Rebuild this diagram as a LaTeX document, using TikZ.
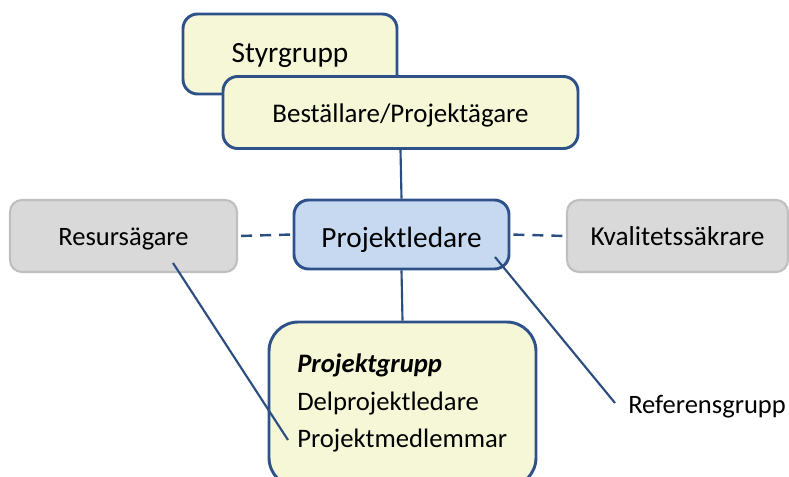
\documentclass[tikz,border=0pt]{standalone}
\usepackage{fontspec}
\setmainfont{Carlito}
\usetikzlibrary{calc}
\definecolor{edgeblue}{HTML}{2F5189}
\definecolor{lineblue}{HTML}{2C4D80}
\definecolor{paleyellow}{HTML}{F6F7D7}
\definecolor{paleblue}{HTML}{C6D9F1}
\definecolor{boxgray}{HTML}{D9D9D9}
\definecolor{edgegray}{HTML}{BFBFBF}
\tikzset{
  rolebox/.style={draw=edgeblue, line width=2.2pt, rounded corners=11pt, inner sep=0pt, text depth=0pt},
  yellowbox/.style={rolebox, fill=paleyellow},
  leadbox/.style={rolebox, fill=paleblue},
  sidebox/.style={draw=edgegray, fill=boxgray, line width=1.6pt, rounded corners=9pt, inner sep=0pt, text depth=0pt},
  listline/.style={anchor=base west, inner sep=0pt, font=\fontsize{20}{24}\selectfont},
  link/.style={draw=lineblue, line width=1.6pt},
  dashlink/.style={draw=lineblue, line width=1.8pt, dash pattern=on 8.25pt off 6pt, dash phase=12pt},
}
\begin{document}
\begin{tikzpicture}[x=0.75pt, y=-0.75pt]
  \useasboundingbox (0,0) rectangle (789,477);
  \clip (0,0) rectangle (789,477);
  % steering group and sponsor
  \node[yellowbox, minimum width=214*0.75pt, minimum height=80*0.75pt, text height=13.5pt,
        font=\fontsize{22}{26}\selectfont] (sty) at (290,54) {Styrgrupp};
  \node[yellowbox, minimum width=355*0.75pt, minimum height=72*0.75pt, text height=15pt,
        font=\fontsize{20.2}{24}\selectfont] (best) at (400.5,112.5) {Beställare/Projektägare};
  % project manager and side roles
  \node[leadbox, minimum width=215*0.75pt, minimum height=69*0.75pt, text height=18.8pt,
        font=\fontsize{22}{26}\selectfont] (pl) at (401.5,234.5) {Projektledare};
  \node[sidebox, minimum width=227*0.75pt, minimum height=72*0.75pt, text height=15pt,
        font=\fontsize{19.9}{24}\selectfont] (res) at (123.5,236) {Resursägare};
  \node[sidebox, minimum width=221*0.75pt, minimum height=72*0.75pt, text height=15pt,
        font=\fontsize{20.5}{24}\selectfont] (kva) at (677.5,236) {Kvalitetssäkrare};
  % project group
  \node[yellowbox, rounded corners=22pt, minimum width=267*0.75pt, minimum height=165*0.75pt]
        (pg) at (402.5,404.5) {};
  \node[listline, font=\fontsize{20}{24}\selectfont\bfseries\itshape] (pgt) at (297,373) {Projektgrupp};
  \node[listline] (dpl) at (297,410) {Delprojektledare};
  \node[listline] (pm) at (297,447) {Projektmedlemmar};
  % reference group
  \node[anchor=base west, inner sep=0pt, font=\fontsize{19.9}{24}\selectfont] (ref) at (628,413) {Referensgrupp};
  % connectors
  \draw[link] (best.south) -- (pl.north);
  \draw[link] (pl.south) -- (pg.north);
  \draw[dashlink] (res.east) -- (pl.west);
  \draw[dashlink] (pl.east) -- (kva.west);
  \coordinate (resfoot) at (173,263);
  \coordinate (pmend) at (288,440);
  \draw[link] (resfoot) -- (pmend);
  \coordinate (plfoot) at (495,257);
  \coordinate (refend) at (615,403);
  \draw[link] (plfoot) -- (refend);
\end{tikzpicture}
\end{document}
